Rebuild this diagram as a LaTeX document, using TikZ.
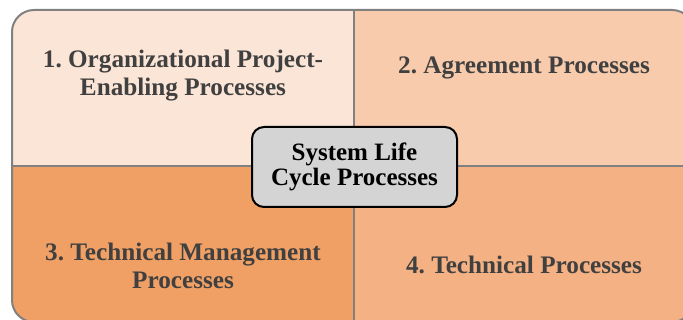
\documentclass[tikz,border=0pt]{standalone}
\usepackage{fontspec}
\setmainfont{Liberation Serif}
\usepackage{xcolor}
\definecolor{quadA}{HTML}{FBE5D6}
\definecolor{quadB}{HTML}{F8CBAD}
\definecolor{quadC}{HTML}{F0A064}
\definecolor{quadD}{HTML}{F4B183}
\definecolor{frameGray}{HTML}{808080}
\definecolor{textGray}{HTML}{404040}
\definecolor{coreGray}{HTML}{D4D4D4}

\tikzset{
    quadlabel/.style={align=center, text=textGray, font=\fontsize{25.2}{28}\selectfont\bfseries},
    corebox/.style={draw=black, line width=2pt, rounded corners=12pt, fill=coreGray,
        minimum width=205pt, minimum height=80pt, align=center,
        font=\fontsize{25}{25}\selectfont\bfseries},
    divider/.style={draw=frameGray, line width=2pt}
}

\begin{document}
\frenchspacing
\begin{tikzpicture}[x=1pt, y=-1pt]
    \useasboundingbox (0,0) rectangle (683,320);

    % Quadrants, clipped to the rounded frame
    \begin{scope}
        \clip[rounded corners=22pt] (12,10) rectangle (694,322);
        \fill[quadA] (12,10) rectangle (354,166);
        \fill[quadB] (354,10) rectangle (694,166);
        \fill[quadC] (12,166) rectangle (354,322);
        \fill[quadD] (354,166) rectangle (694,322);
    \end{scope}

    % Dividers and frame
    \coordinate (topmid) at (354,10);
    \coordinate (botmid) at (354,322);
    \coordinate (leftmid) at (12,166);
    \coordinate (rightmid) at (694,166);
    \draw[divider] (topmid) -- (botmid);
    \draw[divider] (leftmid) -- (rightmid);
    \draw[divider, rounded corners=22pt] (12,10) rectangle (694,322);

    % Labels
    \node[quadlabel] (orgproc) at (183,76) {1. Organizational Project-\\Enabling Processes};
    \node[quadlabel] (agrproc) at (524,68) {2. Agreement Processes};
    \node[quadlabel] (mgmtproc) at (183,266) {3. Technical Management\\Processes};
    \node[quadlabel] (techproc) at (524,265) {4. Technical Processes};

    % Centre
    \node[corebox] (lifecycle) at (354.5,167) {System Life\\Cycle Processes};
\end{tikzpicture}
\end{document}
